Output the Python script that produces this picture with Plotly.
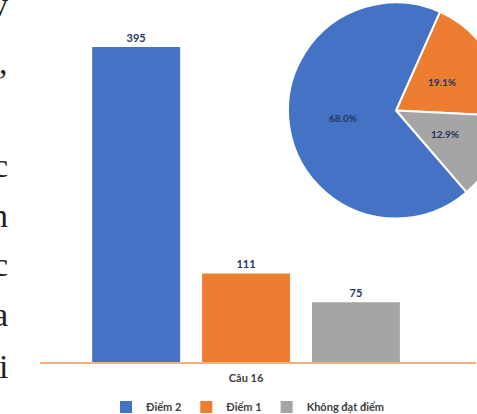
import math
import plotly.graph_objects as go

# Results for question 16
category = ["Câu 16"]
series_names = ["Điểm 2", "Điểm 1", "Không đạt điểm"]
series_values = [395, 111, 75]
series_colors = ["#4472C4", "#ED7D31", "#A5A5A5"]

# Pie starts with "Điểm 1" at the top-right and runs clockwise
pie_order = [1, 2, 0]
pie_rotation = 24

# Fragments of the surrounding page text on the left edge
side_glyphs = ["v", ",", "c", "n", "c", "a", "i"]
side_glyph_rows = [4, 62, 165, 215, 264, 314, 366]

W, H = 504, 414
LABEL_COLOR = "#26365e"
TEXT_COLOR = "#404040"
FONT = "Lato"

# pie placement in pixels (left, top, right, bottom)
PIE_BOX = (288, 1, 504, 220)


def px_x(p):
    return p / W


def px_y(p):
    return 1 - p / H


fig = go.Figure()

for name, val, col in zip(series_names, series_values, series_colors):
    fig.add_trace(go.Bar(
        x=category, y=[val], name=name,
        marker=dict(color=col, line=dict(width=0)),
        text=[val], textposition="outside", cliponaxis=False,
        textfont=dict(family=FONT, size=11, color=LABEL_COLOR, weight="bold"),
        xaxis="x", yaxis="y",
    ))

pie_vals = [series_values[i] for i in pie_order]
fig.add_trace(go.Pie(
    labels=[series_names[i] for i in pie_order],
    values=pie_vals,
    marker=dict(colors=[series_colors[i] for i in pie_order],
                line=dict(color="white", width=2)),
    sort=False, direction="clockwise", rotation=pie_rotation,
    textinfo="none",
    domain=dict(x=[px_x(PIE_BOX[0]), px_x(PIE_BOX[2])],
                y=[px_y(PIE_BOX[3]), px_y(PIE_BOX[1])]),
    showlegend=False, hoverinfo="label+value+percent",
))

annotations = []

# percentage labels at half radius along each slice's middle angle
cx = (PIE_BOX[0] + PIE_BOX[2]) / 2
cy = (PIE_BOX[1] + PIE_BOX[3]) / 2
radius = min(PIE_BOX[2] - PIE_BOX[0], PIE_BOX[3] - PIE_BOX[1]) / 2
total = sum(pie_vals)
start = pie_rotation
for v in pie_vals:
    sweep = 360 * v / total
    mid = math.radians(start + sweep / 2)
    start += sweep
    lx = cx + 0.5 * radius * math.sin(mid)
    ly = cy - 0.5 * radius * math.cos(mid)
    annotations.append(dict(
        text=f"{100 * v / total:.1f}%", xref="paper", yref="paper",
        x=px_x(lx), y=px_y(ly), xanchor="center", yanchor="middle",
        showarrow=False,
        font=dict(family=FONT, size=10, color=LABEL_COLOR, weight="bold"),
    ))

for g, row in zip(side_glyphs, side_glyph_rows):
    annotations.append(dict(
        text=g, xref="paper", yref="paper", x=px_x(10), y=px_y(row),
        xanchor="right", yanchor="middle", showarrow=False,
        font=dict(family="Liberation Serif", size=34, color="#222222"),
    ))

fig.update_layout(
    width=W, height=H,
    margin=dict(l=0, r=0, t=0, b=0, autoexpand=False),
    paper_bgcolor="white", plot_bgcolor="white",
    barmode="group", bargap=0.2, bargroupgap=0.2,
    xaxis=dict(
        domain=[px_x(40), px_x(476)], range=[-0.5, 0.558],
        showline=True, linecolor="#F4B183", linewidth=1.5,
        showgrid=False, zeroline=False,
        ticks="outside", ticklen=5, tickcolor="rgba(0,0,0,0)",
        tickfont=dict(family=FONT, size=11, color=TEXT_COLOR, weight="bold"),
        fixedrange=True, automargin=False,
    ),
    yaxis=dict(
        domain=[px_y(362), 1.0], range=[0, 454],
        visible=False, showgrid=False, zeroline=False,
    ),
    legend=dict(
        orientation="h", x=px_x(248), xanchor="center",
        y=px_y(407), yanchor="middle",
        font=dict(family=FONT, size=11, color=TEXT_COLOR, weight="bold"),
        itemwidth=30, traceorder="normal",
        bgcolor="rgba(0,0,0,0)",
    ),
    annotations=annotations,
    showlegend=True,
)

fig.write_html(
    "out.html",
    post_script="document.documentElement.style.overflow='hidden';"
                "document.body.style.overflow='hidden';"
                "document.body.style.margin='0';",
)
